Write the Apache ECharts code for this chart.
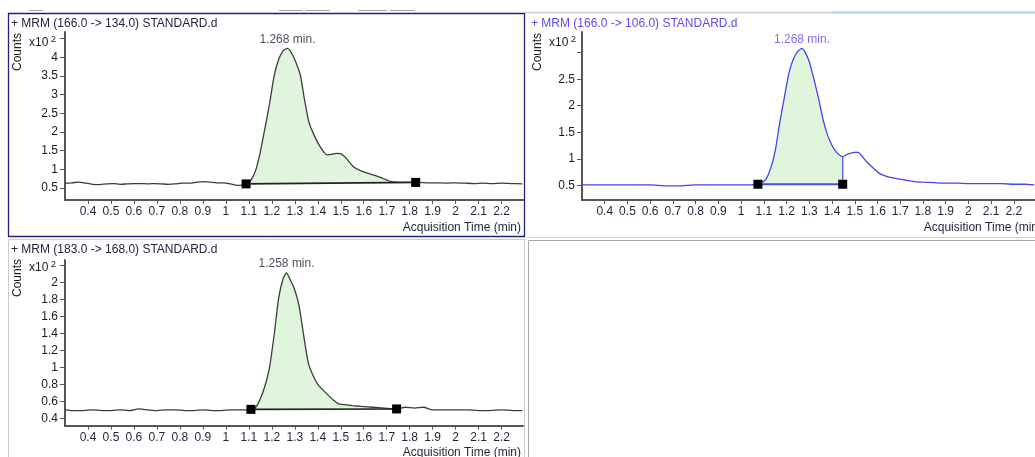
<!DOCTYPE html>
<html><head><meta charset="utf-8">
<script src="https://cdn.jsdelivr.net/npm/echarts@6/dist/echarts.min.js"></script>
<style>html,body{margin:0;padding:0;background:#fff;overflow:hidden}#c{width:1035px;height:457px}</style>
</head><body><div id="c"></div>
<script>
// ---------- data ----------
const panelTitles = ['+ MRM (166.0 -> 134.0) STANDARD.d', '+ MRM (166.0 -> 106.0) STANDARD.d', '+ MRM (183.0 -> 168.0) STANDARD.d'];
const xTickValues = [0.4,0.5,0.6,0.7,0.8,0.9,1,1.1,1.2,1.3,1.4,1.5,1.6,1.7,1.8,1.9,2,2.1,2.2];

const p1YTicks = [0.5,1,1.5,2,2.5,3,3.5,4,4.5];
const p1YLabels = [0.5,1,1.5,2,2.5,3,3.5,4];
const p2YTicks = [0.5,1,1.5,2,2.5,3];
const p2YLabels = [0.5,1,1.5,2,2.5];
const p3YTicks = [0.4,0.6,0.8,1,1.2,1.4,1.6,1.8,2,2.2];
const p3YLabels = [0.4,0.6,0.8,1,1.2,1.4,1.6,1.8,2];

const p1Time = [0.30,0.33,0.36,0.39,0.42,0.45,0.48,0.51,0.54,0.57,0.60,0.63,0.66,0.69,0.72,0.75,0.78,0.81,0.84,0.87,0.90,0.93,0.96,0.99,1.02,1.05,
  1.07,1.09,1.11,1.13,1.15,1.17,1.19,1.21,1.23,1.25,
  1.268,1.28,1.295,1.31,1.325,1.34,1.36,1.38,1.41,1.44,
  1.46,1.48,1.50,1.52,1.555,1.59,1.63,1.67,1.72,
  1.76,1.80,1.84,1.88,1.92,1.96,2.00,2.04,2.08,2.12,2.16,2.20,2.24,2.29];
const p1Counts = [0.63,0.64,0.66,0.63,0.60,0.59,0.61,0.62,0.60,0.61,0.62,0.62,0.61,0.62,0.61,0.60,0.61,0.63,0.63,0.65,0.67,0.66,0.64,0.64,0.61,0.57,
  0.58,0.61,0.72,0.98,1.47,2.10,2.75,3.50,3.95,4.18,
  4.24,4.17,4.00,3.78,3.50,2.95,2.30,1.97,1.61,1.39,
  1.40,1.43,1.42,1.32,1.07,0.95,0.87,0.79,0.67,
  0.65,0.65,0.65,0.64,0.64,0.63,0.64,0.63,0.62,0.63,0.62,0.63,0.62,0.61];
const p1BaseTime = [1.088, 1.826];
const p1BaseCounts = [0.61, 0.65];

const p2Time = [0.30,0.35,0.40,0.45,0.50,0.55,0.60,0.63,0.66,0.70,0.74,0.77,0.80,0.85,0.90,0.95,1.00,1.04,1.07,
  1.09,1.11,1.13,1.15,1.17,1.19,1.21,1.23,1.25,
  1.268,1.28,1.30,1.325,1.34,1.36,1.38,1.40,1.42,1.447,
  1.46,1.48,1.50,1.515,1.53,1.555,1.58,1.61,1.64,1.68,
  1.72,1.76,1.80,1.85,1.90,1.95,2.00,2.05,2.10,2.15,2.20,2.25,2.29];
const p2Counts = [0.51,0.51,0.51,0.51,0.51,0.51,0.51,0.50,0.49,0.49,0.49,0.50,0.51,0.51,0.51,0.51,0.51,0.51,0.52,
  0.55,0.62,0.82,1.15,1.68,2.15,2.61,2.88,3.03,
  3.08,3.02,2.83,2.42,2.15,1.75,1.45,1.25,1.12,1.04,
  1.07,1.10,1.12,1.12,1.06,0.93,0.83,0.72,0.67,0.63,
  0.60,0.57,0.56,0.55,0.54,0.54,0.53,0.53,0.53,0.53,0.52,0.52,0.51];
const p2BaseTime = [1.074, 1.447];
const p2BaseCounts = [0.52, 0.52];
const p2DropTime = [1.447, 1.447];
const p2DropCounts = [0.52, 1.04];

const p3Time = [0.30,0.34,0.38,0.42,0.46,0.50,0.54,0.58,0.62,0.66,0.70,0.74,0.78,0.82,0.86,0.90,0.94,0.98,1.02,1.06,
  1.09,1.11,1.13,1.15,1.17,1.19,1.21,1.23,1.25,1.264,
  1.28,1.294,1.31,1.322,1.34,1.359,1.38,1.402,1.42,1.446,
  1.47,1.49,1.52,1.55,1.59,1.64,1.69,1.743,1.78,1.82,
  1.86,1.90,1.95,2.00,2.05,2.10,2.15,2.20,2.25,2.29];
const p3Counts = [0.50,0.49,0.49,0.50,0.49,0.49,0.50,0.49,0.51,0.50,0.49,0.50,0.50,0.49,0.49,0.50,0.49,0.49,0.50,0.50,
  0.50,0.51,0.53,0.63,0.78,1.00,1.38,1.82,2.05,2.11,
  2.03,1.95,1.82,1.67,1.35,1.05,0.90,0.79,0.74,0.67,
  0.61,0.57,0.56,0.55,0.54,0.53,0.52,0.51,0.53,0.52,
  0.53,0.50,0.50,0.50,0.50,0.49,0.49,0.50,0.49,0.49];
const p3BaseTime = [1.109, 1.743];
const p3BaseCounts = [0.505, 0.51];

const peakTime = [1.268, 1.268, 1.264];
const peakCounts = [4.24, 3.08, 2.11];
const peakText = ['1.268 min.', '1.268 min.', '1.258 min.'];

// ---------- build ----------
const FONT = 'Liberation Sans, Arial, sans-serif';
const fmt = v => String(+(+v).toFixed(2));
const zip = (a, b) => a.map((t, i) => [t, b[i]]);

const panels = [
  {time:p1Time, counts:p1Counts, bt:p1BaseTime, bc:p1BaseCounts, yTicks:p1YTicks, yLabels:p1YLabels,
   color:'#3c3c3c', baseColor:'#222222', labelColor:'#1e1e2e', ymin:0.179, ymax:4.678,
   grid:{left:65, top:32, width:458, height:168}},
  {time:p2Time, counts:p2Counts, bt:p2BaseTime, bc:p2BaseCounts, yTicks:p2YTicks, yLabels:p2YLabels,
   color:'#4444f2', baseColor:'#4a4af2', labelColor:'#5b4cf0', ymin:0.223, ymax:3.39,
   grid:{left:582, top:32, width:463, height:168}},
  {time:p3Time, counts:p3Counts, bt:p3BaseTime, bc:p3BaseCounts, yTicks:p3YTicks, yLabels:p3YLabels,
   color:'#3c3c3c', baseColor:'#222222', labelColor:'#1e1e2e', ymin:0.313, ymax:2.262,
   grid:{left:65, top:260, width:458, height:165.7}}
];

const grids = [], xAxes = [], yAxes = [], series = [];
panels.forEach((p, i) => {
  grids.push(p.grid);
  xAxes.push({type:'value', gridIndex:i, min:0.3, max:2.293,
    axisLine:{show:true, onZero:false, lineStyle:{color:'#565656', width:2}},
    axisTick:{show:true, customValues:xTickValues, length:4, lineStyle:{color:'#565656', width:1}},
    axisLabel:{customValues:xTickValues, margin:6, color:'#1c2438', fontSize:12, fontFamily:FONT, formatter:fmt},
    splitLine:{show:false}});
  yAxes.push({type:'value', gridIndex:i, min:p.ymin, max:p.ymax,
    axisLine:{show:true, onZero:false, lineStyle:{color:'#565656', width:2}},
    axisTick:{show:true, customValues:p.yTicks, length:5, lineStyle:{color:'#565656', width:1}},
    axisLabel:{customValues:p.yLabels, margin:7, color:'#1a1a1a', fontSize:12, fontFamily:FONT, formatter:fmt},
    splitLine:{show:false}});
  const all = zip(p.time, p.counts);
  const fill = all.filter(d => d[0] >= p.bt[0] && d[0] <= p.bt[1]);
  const origin = (p.bc[0] + p.bc[1]) / 2;
  series.push({type:'line', xAxisIndex:i, yAxisIndex:i, data:fill, showSymbol:false, smooth:0.2,
    lineStyle:{width:0}, areaStyle:{color:'#dff5dc', opacity:1, origin:origin}, z:1, silent:true});
  series.push({type:'line', xAxisIndex:i, yAxisIndex:i, data:all, showSymbol:false, smooth:0.2,
    lineStyle:{color:p.color, width:1.3}, z:3, silent:true});
  series.push({type:'line', xAxisIndex:i, yAxisIndex:i, data:zip(p.bt, p.bc), showSymbol:false,
    lineStyle:{color:p.baseColor, width:i===1?2:1.6}, z:4, silent:true});
  series.push({type:'scatter', xAxisIndex:i, yAxisIndex:i, data:zip(p.bt, p.bc), symbol:'rect', symbolSize:9,
    itemStyle:{color:'#000000', opacity:1}, z:6, silent:true});
  series.push({type:'scatter', xAxisIndex:i, yAxisIndex:i, data:[[peakTime[i], peakCounts[i]]], symbolSize:0,
    label:{show:true, position:'top', distance:3, formatter:peakText[i], color:p.labelColor, fontSize:12, fontFamily:FONT},
    z:7, silent:true});
});
series.push({type:'line', xAxisIndex:1, yAxisIndex:1, data:zip(p2DropTime, p2DropCounts), showSymbol:false,
  lineStyle:{color:'#4a4af2', width:1.2}, z:4, silent:true});

function txt(x, y, text, o) {
  return Object.assign({type:'text', x:x, y:y, z:10, silent:true,
    style:Object.assign({text:text, fontSize:12, fontFamily:FONT, fill:'#1a1a1a', verticalAlign:'middle', align:'left'}, o && o.style || {})},
    o && o.extra || {});
}
function ln(x1, y1, x2, y2, c, w) {
  return {type:'line', z:9, silent:true, shape:{x1:x1, y1:y1, x2:x2, y2:y2}, style:{stroke:c, lineWidth:w}};
}
const graphic = [
  ln(29,10.5,43,10.5,'#a8a8a8',1), ln(279,10.5,303,10.5,'#a8a8a8',1), ln(305,10.5,330,10.5,'#a8a8a8',1),
  ln(358,10.5,387,10.5,'#a8a8a8',1), ln(390,10.5,415,10.5,'#a8a8a8',1),
  ln(525,12.5,832,12.5,'#c4d0de',1.5), ln(832,12.5,1035,12.5,'#b8d4f2',2.5),
  {type:'rect', z:9, silent:true, shape:{x:8.5, y:13.5, width:516, height:223}, style:{fill:'none', stroke:'#22227e', lineWidth:1.3}},
  ln(527,237.5,1035,237.5,'#d4d4d4',1),
  {type:'rect', z:9, silent:true, shape:{x:8.5, y:239.5, width:516, height:240}, style:{fill:'none', stroke:'#cccccc', lineWidth:1}},
  {type:'rect', z:9, silent:true, shape:{x:528.5, y:240.5, width:520, height:240}, style:{fill:'none', stroke:'#a8a8a8', lineWidth:1}},
  txt(11, 23.5, panelTitles[0], {style:{fill:'#2a2040'}}),
  txt(531, 23.5, panelTitles[1], {style:{fill:'#5b4cf0'}}),
  txt(11, 249.5, panelTitles[2], {style:{fill:'#2a2040'}}),
  txt(18, 52, 'Counts', {style:{align:'center'}, extra:{rotation:Math.PI/2}}),
  txt(538, 52, 'Counts', {style:{align:'center'}, extra:{rotation:Math.PI/2}}),
  txt(18, 278, 'Counts', {style:{align:'center'}, extra:{rotation:Math.PI/2}}),
  txt(29, 42.5, 'x10'), txt(51, 39.5, '2', {style:{fontSize:9}}),
  txt(549, 42.5, 'x10'), txt(571, 39.5, '2', {style:{fontSize:9}}),
  txt(29, 267.5, 'x10'), txt(51, 265, '2', {style:{fontSize:9}}),
  txt(521, 228, 'Acquisition Time (min)', {style:{align:'right', fill:'#1c2438'}}),
  txt(1042, 228, 'Acquisition Time (min)', {style:{align:'right', fill:'#1c2438'}}),
  txt(521, 453, 'Acquisition Time (min)', {style:{align:'right', fill:'#1c2438'}})
];

const chart = echarts.init(document.getElementById('c'), null, {renderer:'canvas'});
chart.setOption({
  animation:false,
  backgroundColor:'#ffffff',
  textStyle:{fontFamily:FONT},
  grid:grids, xAxis:xAxes, yAxis:yAxes, series:series, graphic:graphic
});
</script>
</body></html>
